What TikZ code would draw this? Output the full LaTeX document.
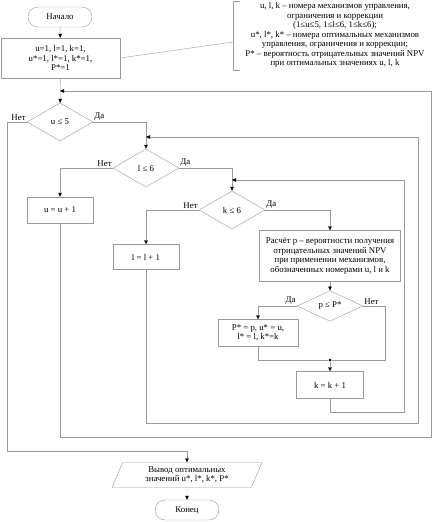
\documentclass[tikz,border=0pt]{standalone}
\usepackage{fontspec}
\setmainfont{Liberation Serif}
\usetikzlibrary{shapes.geometric,shapes.misc,arrows.meta}

\begin{document}
\begin{tikzpicture}[x=1pt,y=-1pt,font=\fontsize{8.8}{9.5}\selectfont,
    >={Triangle[length=4pt,width=3.5pt,color=black]}]
  \tikzstyle{terminal}=[rounded rectangle,draw=black!40,minimum width=66pt,minimum height=20pt,inner sep=1pt]
  \tikzstyle{block}=[rectangle,draw=black!40,align=center,inner sep=1pt]
  \tikzstyle{decision}=[diamond,draw=black!40,inner sep=0pt,minimum width=66pt,minimum height=38pt]
  \tikzstyle{io}=[trapezium,trapezium left angle=60,trapezium right angle=120,trapezium stretches body,
                  draw=black!40,align=center,inner sep=1pt,minimum width=150pt,minimum height=25pt]
  \tikzstyle{line}=[draw=black!40]
  \tikzstyle{flow}=[line,->]
  \tikzstyle{lbl}=[inner sep=1pt]
  \useasboundingbox (0,0) rectangle (433,522);

  % blocks
  \node [terminal] (start) at (60,17) {Начало};
  \node [block,minimum width=119pt,minimum height=40pt] (init) at (60.5,58)
        {u=1, l=1, k=1,\\ u*=1, l*=1, k*=1,\\ P*=1};
  \node [align=center,inner sep=0pt] (note) at (335,35)
        {u, l, k – номера механизмов управления,\\ ограничения и коррекции\\
         (1≤u≤5, 1≤l≤6, 1≤k≤6);\\ u*, l*, k* – номера оптимальных механизмов\\
         управления, ограничения и коррекции;\\ P* – вероятность отрицательных значений NPV\\
         при оптимальных значениях u, l, k};
  \coordinate (brk) at (233,42);
  \coordinate (m1) at (60,91);
  \node [decision] (du) at (60,122) {u ≤ 5};
  \coordinate (m2) at (146,137);
  \node [decision] (dl) at (146,168) {l ≤ 6};
  \node [block,minimum width=66pt,minimum height=26pt] (uinc) at (60,210) {u = u + 1};
  \coordinate (m3) at (232,180);
  \node [decision] (dk) at (232,210) {k ≤ 6};
  \node [block,minimum width=66pt,minimum height=25pt] (linc) at (146,257) {l = l + 1};
  \node [block,minimum width=141pt,minimum height=51pt] (calc) at (330,256)
        {Расчёт p – вероятности получения\\ отрицательных значений NPV\\
         при применении механизмов,\\ обозначенных номерами u, l и k};
  \node [decision,minimum height=28pt] (dp) at (330,306) {p ≤ P*};
  \node [block,minimum width=80pt,minimum height=27pt] (upd) at (258,333)
        {P* = p, u* = u,\\ l* = l, k*=k};
  \node [circle,fill=black,inner sep=0pt,minimum size=3pt] (dot) at (330,360) {};
  \node [block,minimum width=67pt,minimum height=27pt] (kinc) at (330,385) {k = k + 1};
  \node [io] (out) at (187,475) {Вывод оптимальных\\ значений u*, l*, k*, P*};
  \node [terminal] (stop) at (187,510) {Конец};

  % note bracket
  \draw [line] (240,1) -- (233,1) -- (233,70) -- (240,70);
  \draw [line] (init.east) -- (brk);

  % connectors
  \draw [flow] (start) -- (init);
  \draw [flow] (init) -- (du);
  \draw [flow] (du.east) -| (dl.north);
  \draw [flow] (dl.west) -| (uinc.north);
  \draw [flow] (dl.east) -| (dk.north);
  \draw [flow] (dk.west) -| (linc.north);
  \draw [flow] (dk.east) -| (calc.north);
  \draw [flow] (calc) -- (dp);
  \draw [flow] (dp.west) -| (upd.north);
  \draw [line] (dp.east) -| (385,360) -- (dot);
  \draw [line] (upd.south) |- (dot);
  \draw [flow] (dot) -- (kinc);
  \draw [flow] (du.west) -| (7,451) -| (out.north);
  \draw [flow] (out) -- (stop);

  % loop returns
  \draw [flow] (kinc.south) |- (404,412) |- (m3);
  \draw [flow] (linc.south) |- (418,423) |- (m2);
  \draw [flow] (uinc.south) |- (431,437) |- (m1);

  % branch labels
  \node [lbl,above left]  at (du.west) {Нет};
  \node [lbl,above right] at (du.east) {Да};
  \node [lbl,above left]  at (dl.west) {Нет};
  \node [lbl,above right] at (dl.east) {Да};
  \node [lbl,above left]  at (dk.west) {Нет};
  \node [lbl,above right] at (dk.east) {Да};
  \node [lbl,above left]  at (dp.west) {Да};
  \node [lbl,above right] at (dp.east) {Нет};
\end{tikzpicture}
\end{document}
